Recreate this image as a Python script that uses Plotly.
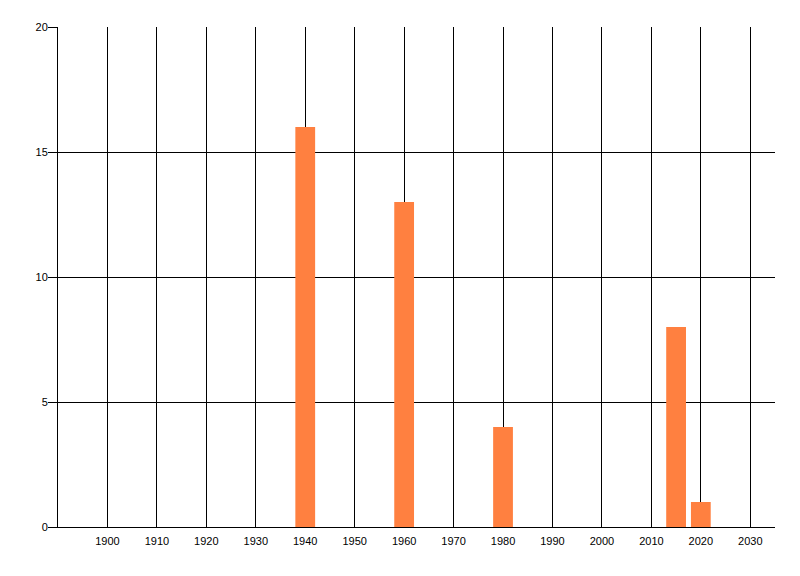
import plotly.graph_objects as go

years = [1940, 1960, 1980, 2015, 2020]
counts = [16, 13, 4, 8, 1]
x_ticks = list(range(1900, 2031, 10))
y_ticks = [0, 5, 10, 15, 20]

bar_color = "rgb(255,128,64)"

fig = go.Figure()
fig.add_trace(go.Bar(
    x=years,
    y=counts,
    width=4,
    marker_color=bar_color,
    marker_line_width=0,
))

# page body has an 8px margin, so margins are shifted to compensate
fig.update_layout(
    width=800, height=576,
    margin=dict(l=50, r=33, t=19, b=57),
    plot_bgcolor="white",
    paper_bgcolor="white",
    showlegend=False,
    font=dict(family="Liberation Sans, Arial, sans-serif", size=11, color="black"),
    xaxis=dict(
        range=[1890, 2035],
        tickvals=x_ticks,
        ticktext=[str(t) for t in x_ticks],
        showgrid=True, gridcolor="black", gridwidth=1,
        showline=True, linecolor="black", linewidth=1,
        ticks="", zeroline=False,
        ticklabelstandoff=4,
    ),
    yaxis=dict(
        range=[0, 20],
        tickvals=y_ticks,
        showgrid=True, gridcolor="black", gridwidth=1,
        showline=True, linecolor="black", linewidth=1,
        ticks="outside", ticklen=9, tickcolor="black",
        zeroline=False,
        ticklabelstandoff=-2,
    ),
)

fig.write_html("out.html")
